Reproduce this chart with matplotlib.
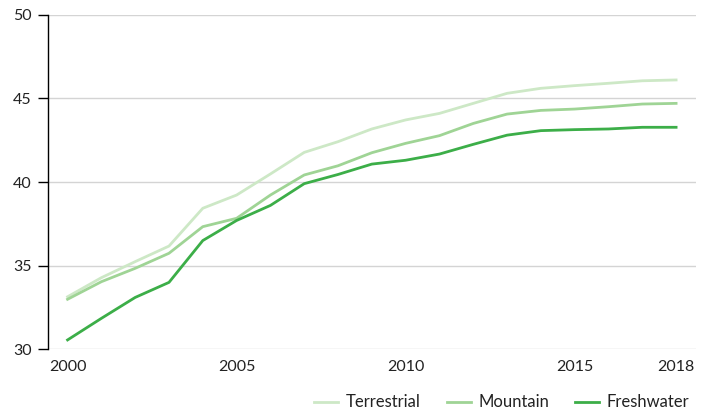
import matplotlib
matplotlib.use("Agg")
import matplotlib.pyplot as plt

years = list(range(2000, 2019))
terrestrial = [33.14, 34.28, 35.24, 36.17, 38.43, 39.22, 40.48, 41.77, 42.41, 43.17,
               43.71, 44.10, 44.70, 45.30, 45.60, 45.76, 45.90, 46.05, 46.10]
mountain = [32.99, 34.04, 34.84, 35.74, 37.33, 37.83, 39.22, 40.42, 40.97, 41.75,
            42.31, 42.77, 43.50, 44.06, 44.28, 44.36, 44.50, 44.66, 44.70]
freshwater = [30.56, 31.85, 33.10, 34.00, 36.50, 37.70, 38.60, 39.90, 40.45, 41.07,
              41.30, 41.67, 42.25, 42.80, 43.07, 43.13, 43.17, 43.27, 43.27]
xtick_labels = [2000, 2005, 2010, 2015, 2018]
yticks = [30, 35, 40, 45, 50]

plt.rcParams['font.family'] = ['Lato', 'DejaVu Sans']

fig = plt.figure(figsize=(7.1, 4.11), dpi=100)
ax = fig.add_axes([48.3/710, 1 - 349.3/411, (695.7-48.3)/710, (349.3-14.7)/411])

ax.plot(years, terrestrial, color='#cde8c6', lw=2, label='Terrestrial', zorder=3)
ax.plot(years, mountain, color='#9fd495', lw=2, label='Mountain', zorder=4)
ax.plot(years, freshwater, color='#3cae48', lw=2, label='Freshwater', zorder=5)

ax.set_xlim(1999.43, 2018.58)
ax.set_ylim(30, 50)
ax.set_yticks(yticks)
ax.set_xticks(xtick_labels)
ax.set_xticklabels([str(v) for v in xtick_labels])
ax.yaxis.grid(True, color='#d4d4d4', lw=1)
ax.set_axisbelow(True)
for s in ['top', 'right', 'bottom']:
    ax.spines[s].set_visible(False)
ax.spines['left'].set_color('black')
ax.spines['left'].set_linewidth(1)
ax.tick_params(axis='y', length=7, width=1, color='black', labelsize=11.5, pad=5, labelcolor='#222222')
ax.tick_params(axis='x', length=0, labelsize=11.5, pad=8, labelcolor='#222222')

leg = fig.legend(loc='lower right', bbox_to_anchor=(0.992, -0.035), ncol=3, frameon=False,
                 fontsize=12, handlelength=1.45, columnspacing=1.55, handletextpad=0.45)
for t in leg.get_texts():
    t.set_color('#222222')

fig.savefig('out.png', dpi=100)
